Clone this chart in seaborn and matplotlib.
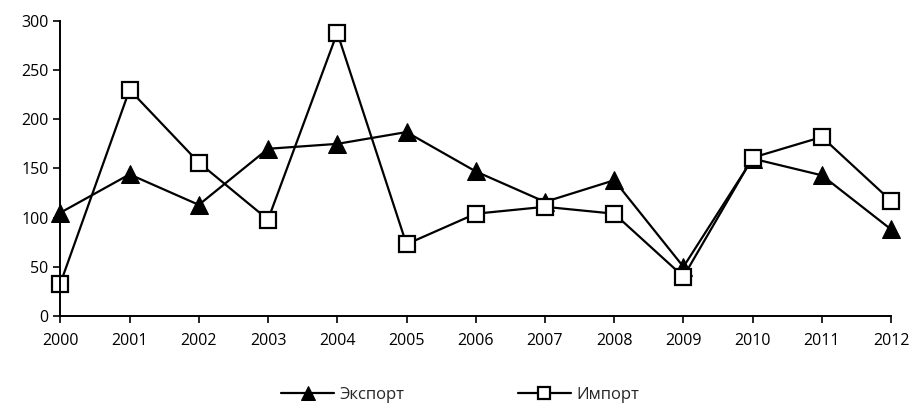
import numpy as np
import pandas as pd
import matplotlib
matplotlib.use("Agg")
import matplotlib.pyplot as plt
import seaborn as sns

# ---- data ----
years = [2000, 2001, 2002, 2003, 2004, 2005, 2006, 2007, 2008, 2009, 2010, 2011, 2012]
export_vals = [105, 144, 113, 170, 175, 187, 147, 116, 138, 50, 160, 143, 88]
import_vals = [33, 230, 156, 98, 288, 73, 104, 111, 104, 40, 161, 182, 117]
series_names = ["Экспорт", "Импорт"]

sns.set_style("white")
plt.rcParams['font.family'] = ['Open Sans', 'DejaVu Sans']

fig, ax = plt.subplots(figsize=(9.14, 4.18), dpi=100)
fig.subplots_adjust(left=0.066, right=0.975, bottom=0.244, top=0.95)

sns.lineplot(x=years, y=export_vals, ax=ax, color="black", lw=1.6,
             marker="^", markersize=13, markerfacecolor="black",
             markeredgecolor="black", label=series_names[0])
sns.lineplot(x=years, y=import_vals, ax=ax, color="black", lw=1.6,
             marker="s", markersize=11, markerfacecolor="white",
             markeredgecolor="black", markeredgewidth=1.6, label=series_names[1])

ax.set_xlim(2000, 2012)
ax.set_ylim(0, 300)
ax.set_xticks(years)
ax.set_yticks(range(0, 301, 50))
ax.tick_params(axis="both", direction="out", length=5, width=1.2, labelsize=11.5,
               colors="black", bottom=True, left=True)
ax.tick_params(axis="x", pad=7)
sns.despine(ax=ax)
for s in ["left", "bottom"]:
    ax.spines[s].set_color("black")
    ax.spines[s].set_linewidth(1.4)
ax.set_xlabel("")
ax.set_ylabel("")
for p in ax.lines:
    p.set_clip_on(False)

ax.legend(loc="upper center", bbox_to_anchor=(0.481, -0.19), ncol=2, frameon=False,
          fontsize=12, columnspacing=6.8, handlelength=3.2, handletextpad=0.3,
          markerscale=0.8)

fig.savefig("out.png", dpi=100)
